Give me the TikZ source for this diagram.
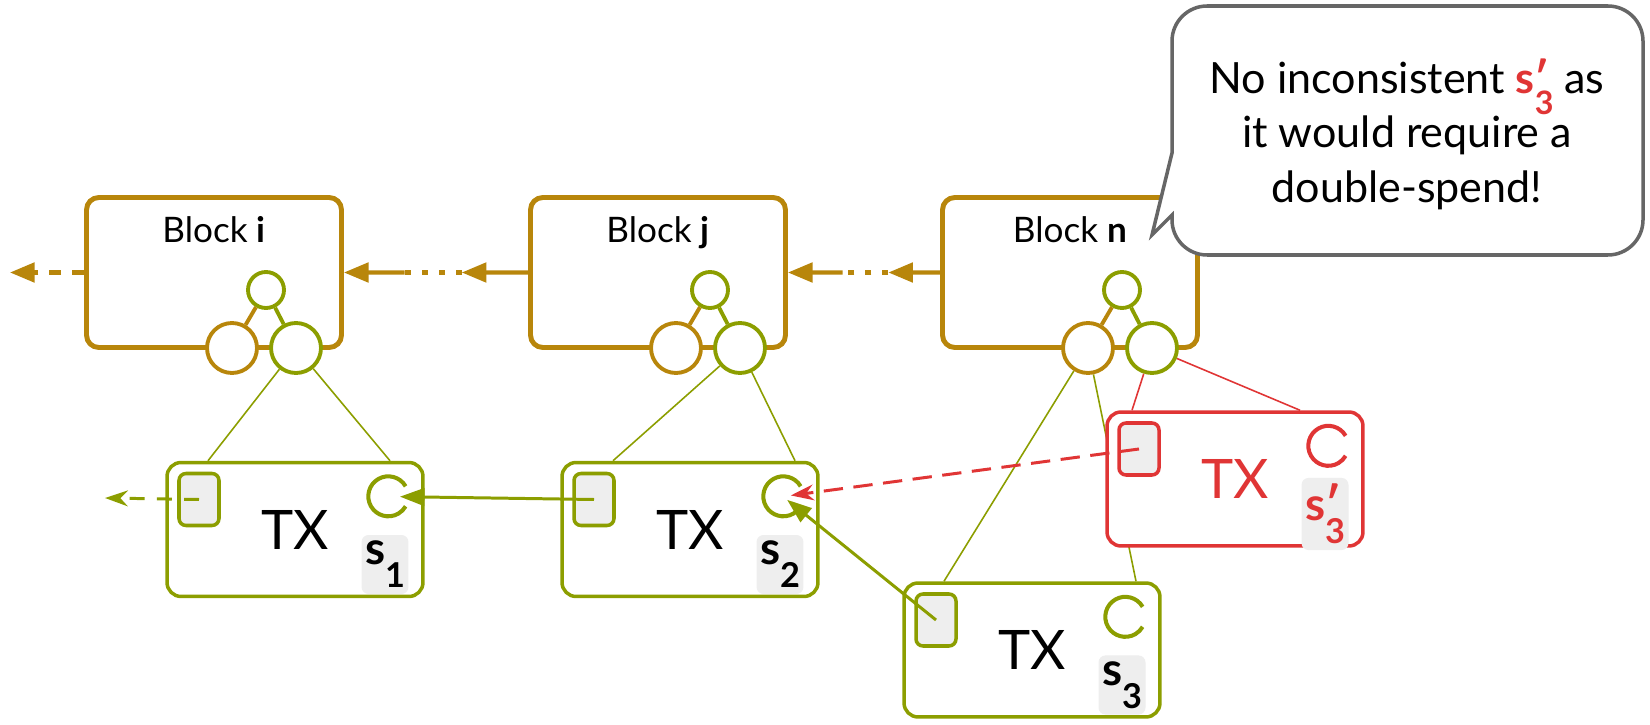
\documentclass[tikz,border=0pt]{standalone}
\usepackage{fontspec}
\setmainfont{Lato}
\usetikzlibrary{arrows.meta, calc, positioning}
\definecolor{Gold}{HTML}{B8860B}
\definecolor{Leaf}{HTML}{8C9E00}
\definecolor{Clash}{HTML}{E03535}
\definecolor{Paper}{HTML}{EEEEEE}
\definecolor{Talk}{HTML}{666666}
\pgfdeclarelayer{background}
\pgfsetlayers{background,main}

% bold s with a lowered index, optional prime
\newcommand{\stag}[2][]{\textbf{s\rlap{#1}\raisebox{-0.5em}{\scalebox{0.75}{#2}}}}

\tikzset{
  block/.style={draw=Gold, line width=2.8pt, rounded corners=7pt, minimum width=5.1cm, minimum height=3cm},
  blocktitle/.style={anchor=base, font=\fontsize{20}{24}\selectfont},
  hash/.style={circle, draw=#1, fill=white, line width=2.2pt, inner sep=0pt},
  tx/.style={draw=#1, fill=white, line width=2pt, rounded corners=8pt, minimum width=5.12cm, minimum height=2.68cm, font=\fontsize{31}{36}\selectfont},
  inpin/.style={draw=#1, fill=Paper, line width=2pt, rounded corners=4pt, minimum width=0.8cm, minimum height=1.04cm, inner sep=0pt},
  outpin/.style={circle, minimum size=0.8cm, inner sep=0pt},
  stagbox/.style={fill=Paper, rounded corners=4pt, inner xsep=2pt, inner ysep=3.5pt, font=\fontsize{26}{28}\selectfont},
  hang/.style={line width=0.9pt},
  chain/.style={Gold, line width=2.3pt, -{Triangle[length=14pt,width=11pt]}},
  gap/.style={Gold, line width=2.3pt, dash pattern=on 3.4pt off 6.3pt},
  spend/.style={line width=1.7pt, -{Triangle[length=14pt,width=10pt]}},
  respend/.style={line width=1.7pt, -{Stealth[length=13pt,width=9pt]}},
  note/.style={align=center, font=\fontsize{24.5}{31}\selectfont},
  bubble/.style={draw=Talk, fill=white, line width=2pt}
}

\begin{document}
\begin{tikzpicture}[x=0.02cm, y=0.02cm]
\useasboundingbox (0,0) rectangle (1650,724);

% blocks
\node[block] (bi) at (214,451.5) {};
\node[block] (bj) at (658,451.5) {};
\node[block] (bn) at (1070,451.5) {};
\node[blocktitle] (bi-t) at ($(bi.north)+(0,-47)$) {Block \textbf{i}};
\node[blocktitle] (bj-t) at ($(bj.north)+(0,-47)$) {Block \textbf{j}};
\node[blocktitle] (bn-t) at ($(bn.north)+(0,-47)$) {Block \textbf{n}};

% back links between blocks
\coordinate (past) at (10,451.5);
\draw[chain, dash pattern=on 7pt off 6pt] (bi.west) -- (past);
\coordinate (ji-a) at ($(bj.west)!0.36!(bi.east)$);
\coordinate (ji-b) at ($(bj.west)!0.67!(bi.east)$);
\coordinate (nj-a) at ($(bn.west)!0.34!(bj.east)$);
\coordinate (nj-b) at ($(bn.west)!0.64!(bj.east)$);
\draw[chain] (bj.west) -- (ji-a);
\draw[gap] (ji-a) -- (ji-b);
\draw[chain] (ji-b) -- (bi.east);
\draw[chain] (bn.west) -- (nj-a);
\draw[gap] (nj-a) -- (nj-b);
\draw[chain] (nj-b) -- (bj.east);

% merkle trees at the bottom of each block
\foreach \b in {bi,bj,bn} {
  \node[hash=Leaf, minimum size=0.72cm] (\b-top) at ($(\b.center)+(52,-17.5)$) {};
  \node[hash=Gold, minimum size=1cm] (\b-l) at ($(\b.center)+(18,-75.5)$) {};
  \node[hash=Leaf, minimum size=1cm] (\b-r) at ($(\b.center)+(82,-75.5)$) {};
  \draw[Gold, line width=2.2pt] (\b-top) -- (\b-l);
  \draw[Leaf, line width=2.2pt] (\b-top) -- (\b-r);
}

% transactions
\node[tx=Leaf] (tx1) at (295,194.5) {TX};
\node[tx=Leaf] (tx2) at (690,194.5) {TX};
\node[tx=Leaf] (tx3) at (1032,74) {TX};
\node[tx=Clash, text=Clash] (txr) at (1235,245) {TX};

\foreach \t/\c/\k/\s in {tx1/Leaf/black/{\stag{1}}, tx2/Leaf/black/{\stag{2}}, tx3/Leaf/black/{\stag{3}}, txr/Clash/Clash/{\stag[′]{3}}} {
  \node[inpin=\c] (\t-in) at ($(\t.center)+(-96,30)$) {};
  \node[outpin] (\t-out) at ($(\t.center)+(93,33)$) {};
  \draw[\c, line width=2.3pt] (\t-out.30) arc[start angle=30, end angle=330, radius=0.4cm];
  \node[stagbox, text=\k] (\t-s) at ($(\t.center)+(90,-35)$) {\s};
}

% leaves hanging from the trees
\begin{pgfonlayer}{background}
\draw[hang, Leaf] (bi-r) -- ($(tx1.north)+(-87,0)$);
\draw[hang, Leaf] (bi-r) -- ($(tx1.north)+(95,0)$);
\draw[hang, Leaf] (bj-r) -- ($(tx2.north)+(-77,0)$);
\draw[hang, Leaf] (bj-r) -- ($(tx2.north)+(105,0)$);
\draw[hang, Leaf] (bn-l) -- ($(tx3.north)+(-88,0)$);
\draw[hang, Leaf] (bn-l) -- ($(tx3.north)+(104,0)$);
\draw[hang, Clash] (bn-r) -- ($(txr.north)+(-103,0)$);
\draw[hang, Clash] (bn-r) -- ($(txr.north)+(65,0)$);
\end{pgfonlayer}

% spending inputs
\coordinate (older) at (105,226);
\draw[respend, Leaf, dash pattern=on 8.5pt off 7pt] (tx1-in.center) -- (older);
\draw[spend, Leaf, shorten >=6.8pt] (tx2-in.center) -- (tx1-out.center);
\draw[spend, Leaf, shorten >=3pt] (tx3-in.center) -- (tx2-out.center);
\draw[respend, Clash, dash pattern=on 11pt off 6pt, shorten >=4.5pt] (txr-in.center) -- (tx2-out.center);

% speech bubble
\draw[bubble] (1172,571) -- (1152,489) -- (1172,509) [rounded corners=20pt] -- (1172,469) -- (1643,469) -- (1643,718) -- (1172,718) [sharp corners] -- cycle;
\node[note] (note) at (1407,590) {No inconsistent \textcolor{Clash}{\stag[′]{3}} as\\it would require a\\double-spend!};
\end{tikzpicture}
\end{document}
